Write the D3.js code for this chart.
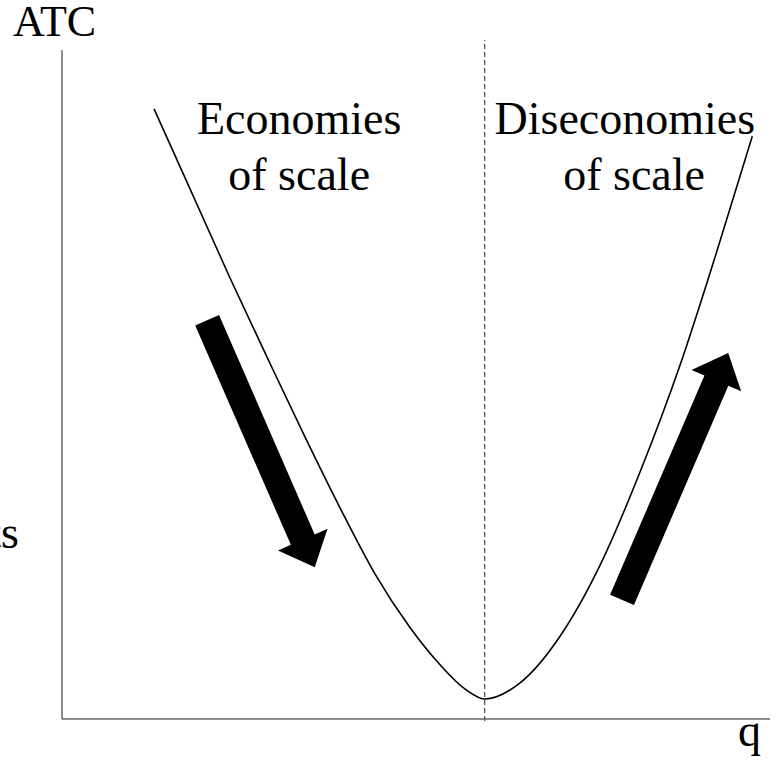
<!DOCTYPE html>
<html>
<head>
<meta charset="utf-8">
<script src="https://cdn.jsdelivr.net/npm/d3@7"></script>
<style>
  body { margin: 0; background: #fff; }
  .lbl { font-family: "Times New Roman", Times, "Liberation Serif", "DejaVu Serif", serif; }
</style>
</head>
<body>
<svg id="chart"></svg>
<script>
var width = 776;
var height = 760;

// ATC curve (arbitrary units 0-100)
var qValues   = [13.0, 18.1, 23.7, 29.4, 34.3, 39.3, 44.2, 49.2, 53.4, 56.9, 59.7, 64.7, 70.3, 76.0, 81.6, 87.3, 92.2, 97.5];
var atcValues = [91.2, 79.2, 66.0, 53.1, 42.2, 31.5, 21.7, 13.6,  8.1,  4.5,  3.0,  5.4, 12.3, 23.0, 36.8, 52.9, 68.9, 87.1];

// minimum efficient scale
var minQ = 59.7;

// arrows: [tailQ, tailATC, tipQ, tipATC]
var arrows = [
  [20.5, 59.6, 35.7, 22.7],
  [79.1, 17.8, 94.1, 54.7]
];

var regionLabels = [
  { lines: ["Economies", "of scale"], q: [33.5, 33.5] },
  { lines: ["Diseconomies", "of scale"], q: [79.5, 80.8] }
];

var svg = d3.select("#chart")
  .attr("width", width)
  .attr("height", height);

var x = d3.scaleLinear().domain([0, 100]).range([62, 770]);
var y = d3.scaleLinear().domain([0, 100]).range([719, 50]);

// axes (plain lines, no ticks)
svg.append("line")
  .attr("x1", x(0)).attr("x2", x(0))
  .attr("y1", y(0)).attr("y2", y(100))
  .attr("stroke", "#666").attr("stroke-width", 1.5);
svg.append("line")
  .attr("x1", x(0)).attr("x2", x(100))
  .attr("y1", y(0)).attr("y2", y(0))
  .attr("stroke", "#666").attr("stroke-width", 1.5);

// dashed line at the minimum
svg.append("line")
  .attr("x1", x(minQ)).attr("x2", x(minQ))
  .attr("y1", y(0) + 2).attr("y2", y(101.5))
  .attr("stroke", "#555").attr("stroke-width", 1.3)
  .attr("stroke-dasharray", "5,3");

// curve
var pts = qValues.map(function(q, i) { return [q, atcValues[i]]; });
var line = d3.line()
  .x(function(d) { return x(d[0]); })
  .y(function(d) { return y(d[1]); })
  .curve(d3.curveMonotoneX);
svg.append("path")
  .datum(pts)
  .attr("d", line)
  .attr("fill", "none")
  .attr("stroke", "#000")
  .attr("stroke-width", 1.6);

// block arrows
var shaftW = 26, headW = 54, headL = 30;
arrows.forEach(function(a) {
  var x0 = x(a[0]), y0 = y(a[1]), x1 = x(a[2]), y1 = y(a[3]);
  var dx = x1 - x0, dy = y1 - y0;
  var len = Math.sqrt(dx * dx + dy * dy);
  var ux = dx / len, uy = dy / len;
  var nx = -uy, ny = ux;
  var bx = x1 - ux * headL, by = y1 - uy * headL;
  var p = [
    [x0 + nx * shaftW / 2, y0 + ny * shaftW / 2],
    [bx + nx * shaftW / 2, by + ny * shaftW / 2],
    [bx + nx * headW / 2, by + ny * headW / 2],
    [x1, y1],
    [bx - nx * headW / 2, by - ny * headW / 2],
    [bx - nx * shaftW / 2, by - ny * shaftW / 2],
    [x0 - nx * shaftW / 2, y0 - ny * shaftW / 2]
  ];
  svg.append("polygon")
    .attr("points", p.map(function(d) { return d.join(","); }).join(" "))
    .attr("fill", "#000");
});

// region labels
regionLabels.forEach(function(r) {
  r.lines.forEach(function(t, i) {
    svg.append("text")
      .attr("class", "lbl")
      .attr("x", x(r.q[i]))
      .attr("y", 134 + i * 56)
      .attr("text-anchor", "middle")
      .style("font-size", "46px")
      .text(t);
  });
});

// axis titles
svg.append("text")
  .attr("class", "lbl")
  .attr("x", 13).attr("y", 36)
  .style("font-size", "44px")
  .text("ATC");
svg.append("text")
  .attr("class", "lbl")
  .attr("x", 738).attr("y", 746)
  .style("font-size", "46px")
  .text("q");
// label cut off at the left edge
svg.append("text")
  .attr("class", "lbl")
  .attr("x", 19).attr("y", 548)
  .attr("text-anchor", "end")
  .style("font-size", "46px")
  .text("Costs");
</script>
</body>
</html>
